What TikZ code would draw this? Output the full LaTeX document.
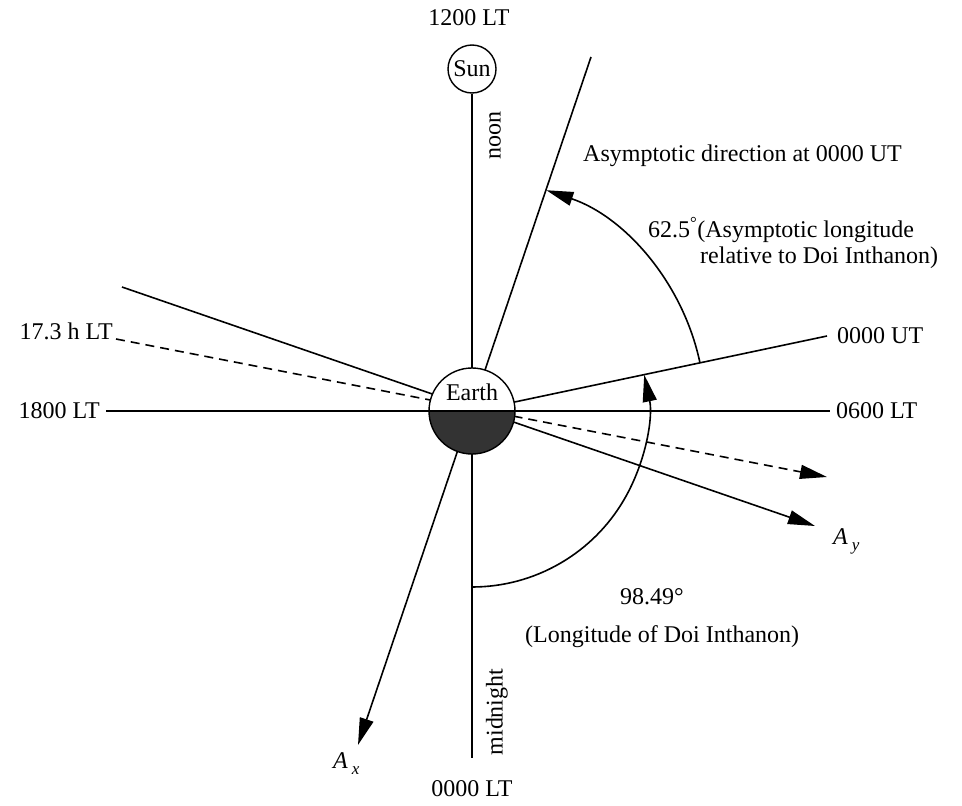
\documentclass[tikz,border=0pt]{standalone}
\usepackage{fontspec}
\setmainfont{Liberation Serif}
\usetikzlibrary{arrows.meta}
\begin{document}
\begin{tikzpicture}[x=1pt,y=-1pt,
  ln/.style={line width=1.6pt},
  tipped/.style={-{Triangle[length=27pt,width=14pt]}},
  dsh/.style={dash pattern=on 9pt off 6pt},
  lbl/.style={font=\fontsize{24}{28}\selectfont, inner sep=0pt},
  vlbl/.style={lbl, rotate=90}]
\useasboundingbox (0,0) rectangle (962,806);
% key points
\coordinate (C) at (472,411);
\coordinate (vbot) at (472,758);
\coordinate (hl) at (106,411);
\coordinate (hr) at (830,411);
\coordinate (asy) at (591,57);
\coordinate (ax) at (358,745);
\coordinate (ayl) at (122,287);
\coordinate (ay) at (815,526);
\coordinate (dl) at (116,339);
\coordinate (dr) at (827,477);
\coordinate (ut) at (827,336);
\coordinate (a1s) at (700,363);
\coordinate (a2s) at (472,587);
% sun
\node[lbl, draw, circle, line width=1.4pt, minimum size=48pt] (sun) at (472,69) {Sun};
% lines
\draw[ln] (sun.south) -- (vbot);
\draw[ln] (hl) -- (hr);
\draw[ln, tipped] (asy) -- (ax);
\draw[ln, tipped] (ayl) -- (ay);
\draw[ln, dsh, tipped] (dl) -- (dr);
\draw[ln] (C) -- (ut);
% arcs
\draw[ln, tipped] (a1s) arc[start angle=11.9, end angle=71.4, radius=233pt];
\draw[ln, tipped] (a2s) arc[start angle=-90, end angle=11.9, radius=176pt];
% earth
\fill[white] (C) circle[radius=43pt];
\fill[black!80] (C) ++(-43pt,0) arc[start angle=180, end angle=360, radius=43pt] -- cycle;
\draw[line width=1.4pt] (C) circle[radius=43pt];
\draw[ln] ([xshift=-43pt]C) -- ([xshift=43pt]C);
\node[lbl] (earth) at (472,392) {Earth};
% labels
\node[lbl] (t1200) at (469,18) {1200 LT};
\node[vlbl] (noon) at (495,135) {noon};
\node[vlbl] (midn) at (497,712) {midnight};
\node[lbl] (t0000lt) at (472,789) {0000 LT};
\node[lbl, anchor=east] (t1800) at (100,411) {1800 LT};
\node[lbl, anchor=east] (t173) at (113,331) {17.3 h LT};
\node[lbl, anchor=west] (t0600) at (836,411) {0600 LT};
\node[lbl, anchor=west] (t0000ut) at (837,336) {0000 UT};
\node[lbl, anchor=west] (tasy) at (583,156) {Asymptotic direction at 0000 UT};
\node[lbl, anchor=west] (t625) at (648,230) {62.5\textsuperscript{°}(Asymptotic longitude};
\node[lbl, anchor=west] (trel) at (700,258) {relative to Doi Inthanon)};
\node[lbl, anchor=west] (t9849) at (620,597) {98.49°};
\node[lbl, anchor=west] (tlong) at (525,637) {(Longitude of Doi Inthanon)};
\node[lbl, anchor=west] (tay) at (833,541) {\textit{A}\,\raisebox{-6pt}{\fontsize{17}{17}\selectfont\textit{y}}};
\node[lbl, anchor=west] (tax) at (333,764) {\textit{A}\,\raisebox{-6pt}{\fontsize{17}{17}\selectfont\textit{x}}};
\end{tikzpicture}
\end{document}
